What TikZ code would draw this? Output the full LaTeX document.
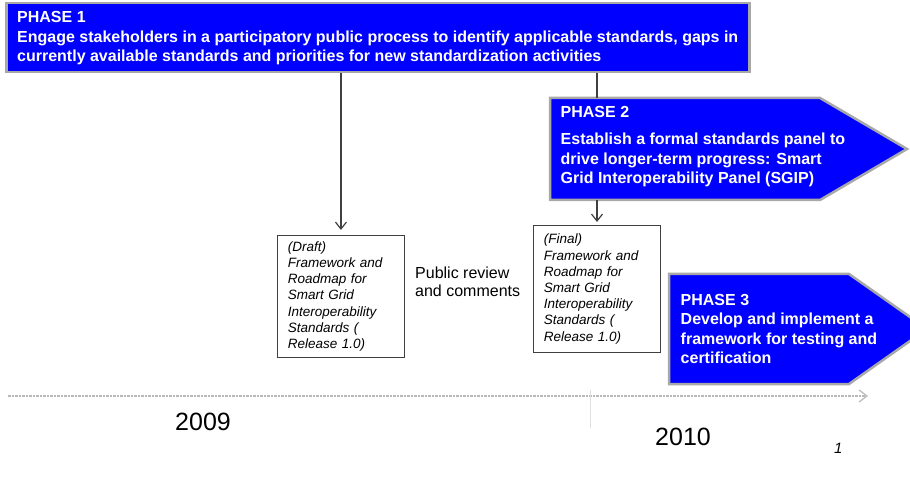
\documentclass[tikz,border=0pt]{standalone}
\usepackage{fontspec}
\setmainfont{Liberation Sans}
\usetikzlibrary{arrows.meta}
\definecolor{phaseblue}{RGB}{0,0,255}
\definecolor{rimgray}{RGB}{168,168,168}
\tikzset{
  phasebox/.style={fill=phaseblue, draw=rimgray, line width=2.5pt},
  phasetext/.style={text=white, anchor=north west, inner sep=0pt, align=left,
    font=\fontsize{16}{19.4}\selectfont\bfseries},
  docbox/.style={draw=black!75, fill=white, line width=0.9pt, anchor=north west,
    inner xsep=10.5pt, text width=106pt, align=left,
    font=\fontsize{13.5}{16.2}\selectfont\itshape},
  link/.style={draw=black!75, line width=1.2pt, -{Straight Barb[length=7pt,width=11pt]}},
  plain/.style={draw=black!75, line width=1.4pt},
  timeline/.style={draw=gray!55, line width=2.5pt, densely dotted,
    -{Straight Barb[length=8pt,width=12pt,line width=1.2pt]}},
  yeartext/.style={anchor=base west, inner sep=0pt, font=\fontsize{25}{30}\selectfont}
}
\begin{document}
\begin{tikzpicture}[x=1pt,y=-1pt]
\useasboundingbox (0,0) rectangle (910,478);
\clip (0,0) rectangle (910,478);

\node[phasebox, anchor=north west, minimum width=743pt, minimum height=69pt, inner sep=0pt] (p1) at (5,2) {};
\node[phasetext, font=\fontsize{16}{19.5}\selectfont\bfseries] (p1txt) at (17,11.2) {PHASE 1\\
Engage stakeholders in a participatory public process to identify applicable standards, gaps in\\
currently available standards and priorities for new standardization activities};

\draw[phasebox] (550,98) -- (820,98) -- (907,149) -- (820,200) -- (550,200) -- cycle;
\coordinate (p2top) at (597,98);
\coordinate (p2bot) at (597,200);
\node[phasetext] (p2txt) at (560.5,105.8) {PHASE 2\\[8.4pt]
Establish a formal standards panel to\\
drive longer-term progress: Smart\\
Grid Interoperability Panel (SGIP)};

\draw[phasebox] (669,274) -- (849,274) -- (927,329) -- (849,384) -- (669,384) -- cycle;
\node[phasetext] (p3txt) at (680.5,294.2) {PHASE 3\\
Develop and implement a\\
framework for testing and\\
certification};

\node[docbox, minimum height=122pt] (draft) at (277,235) {(Draft)\\ Framework and\\ Roadmap for\\ Smart Grid\\ Interoperability\\ Standards (\\ Release 1.0)};
\node[docbox, minimum height=127pt] (final) at (533,225) {(Final)\\ Framework and\\ Roadmap for\\ Smart Grid\\ Interoperability\\ Standards (\\ Release 1.0)};

\node[anchor=north west, inner sep=0pt, align=left, font=\fontsize{16}{18.4}\selectfont] (review) at (415,266.8) {Public review\\and comments};

\draw[link] (p1.south -| draft.north) -- ([yshift=5pt]draft.north);
\draw[plain] (p1.south -| p2top) -- (p2top);
\draw[link] (p2bot) -- ([yshift=3pt]final.north -| p2bot);

\coordinate (tl0) at (8,396);
\coordinate (tl1) at (868,396);
\draw[timeline] (tl0) -- (tl1);
\coordinate (tk0) at (590,390);
\coordinate (tk1) at (590,428);
\draw[gray!25, line width=0.8pt] (tk0) -- (tk1);

\node[yeartext] (y2009) at (175,430.7) {2009};
\node[yeartext] (y2010) at (655,445) {2010};
\node[anchor=base west, inner sep=0pt, font=\fontsize{15}{18}\selectfont\itshape] (pageno) at (834,453.3) {1};
\end{tikzpicture}
\end{document}
